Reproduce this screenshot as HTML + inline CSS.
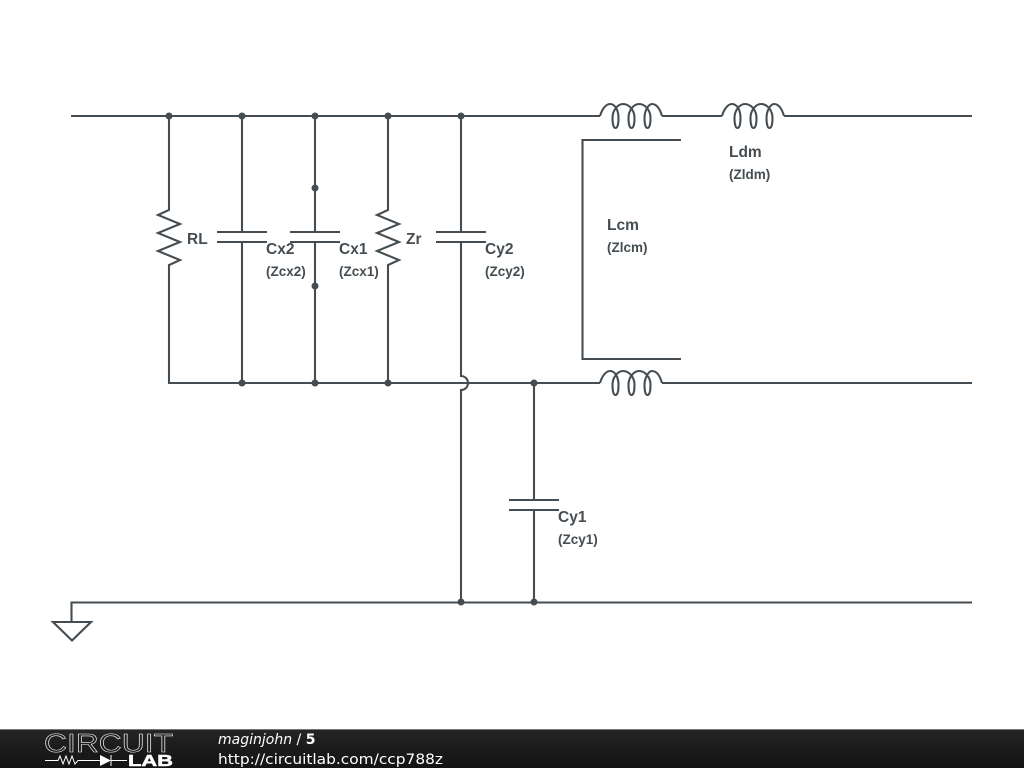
<!DOCTYPE html>
<html><head><meta charset="utf-8"><style>html,body{margin:0;padding:0;background:#fff;width:1024px;height:768px;overflow:hidden}svg{display:block}</style></head>
<body>
<svg width="1024" height="768" viewBox="0 0 1024 768" xmlns="http://www.w3.org/2000/svg">
<defs>
<linearGradient id="g" x1="0" y1="0" x2="0" y2="1"><stop offset="0" stop-color="#262626"/><stop offset="0.45" stop-color="#1c1c1c"/><stop offset="1" stop-color="#141414"/></linearGradient>
</defs>
<g fill="none" stroke="#454d52" stroke-width="2.100">
<path d="M71 116H600M662 116H722M784 116H972"/>
<path d="M600 116C602 109 606 104 610 104C615 104 618.500 110 618.500 118C618.500 124 617.500 128 615.500 128C613.500 128 612.500 124 612.500 118C612.500 110 618 104 623 104C629 104 634.500 110 634.500 118C634.500 124 633.500 128 631.500 128C629.500 128 628.500 124 628.500 118C628.500 110 634 104 639 104C645 104 650.500 110 650.500 118C650.500 124 649.500 128 647.500 128C645.500 128 644.500 124 644.500 118C644.500 110 649 104 652 104C657 104 660 109 662 116"/>
<path d="M722 116C724 109 728 104 732 104C737 104 740.500 110 740.500 118C740.500 124 739.500 128 737.500 128C735.500 128 734.500 124 734.500 118C734.500 110 740 104 745 104C751 104 756.500 110 756.500 118C756.500 124 755.500 128 753.500 128C751.500 128 750.500 124 750.500 118C750.500 110 756 104 761 104C767 104 772.500 110 772.500 118C772.500 124 771.500 128 769.500 128C767.500 128 766.500 124 766.500 118C766.500 110 771 104 774 104C779 104 782 109 784 116"/>
<path d="M600 383C602 376 606 371 610 371C615 371 618.500 377 618.500 385C618.500 391 617.500 395 615.500 395C613.500 395 612.500 391 612.500 385C612.500 377 618 371 623 371C629 371 634.500 377 634.500 385C634.500 391 633.500 395 631.500 395C629.500 395 628.500 391 628.500 385C628.500 377 634 371 639 371C645 371 650.500 377 650.500 385C650.500 391 649.500 395 647.500 395C645.500 395 644.500 391 644.500 385C644.500 377 649 371 652 371C657 371 660 376 662 383"/>
<path d="M681 140H582.500V359H681"/>
<path d="M169 116V210L158 215L180 224L158 233L180 242L158 251L180 260L169 265V383H600M662 383H972"/>
<path d="M242 116V232M217 232H267M217 242H267M242 242V383"/>
<path d="M315 116V232M290 232H340M290 242H340M315 242V383"/>
<path d="M388 116V210L377 215L399 224L377 233L399 242L377 251L399 260L388 265V383"/>
<path d="M461 116V232M436 232H486M436 242H486M461 242V376A7 7 0 0 1 461 390V602"/>
<path d="M534 383V500M509 500H559M509 510H559M534 510V602"/>
<path d="M972 602.500H71.500V622"/>
<path d="M53 622H91L72 640.500Z" stroke-linejoin="miter"/>
</g>
<g fill="#454d52">
<circle cx="169" cy="116" r="3.500"/><circle cx="242" cy="116" r="3.500"/><circle cx="315" cy="116" r="3.500"/><circle cx="388" cy="116" r="3.500"/><circle cx="461" cy="116" r="3.500"/>
<circle cx="315" cy="188" r="3.500"/><circle cx="315" cy="286" r="3.500"/>
<circle cx="242" cy="383" r="3.500"/><circle cx="315" cy="383" r="3.500"/><circle cx="388" cy="383" r="3.500"/><circle cx="534" cy="383" r="3.500"/>
<circle cx="461" cy="602" r="3.500"/><circle cx="534" cy="602" r="3.500"/>
</g>
<g fill="#454d52" font-family="'Liberation Sans',sans-serif" font-weight="700" font-size="15.500">
<text x="187" y="244">RL</text>
<text x="266" y="254">Cx2</text>
<text x="339" y="254">Cx1</text>
<text x="406" y="244">Zr</text>
<text x="485" y="254">Cy2</text>
<text x="558" y="522">Cy1</text>
<text x="607" y="230">Lcm</text>
<text x="729" y="157">Ldm</text>
</g>
<g fill="#454d52" font-family="'Liberation Sans',sans-serif" font-weight="700" font-size="13.500">
<text x="266" y="276">(Zcx2)</text>
<text x="339" y="276">(Zcx1)</text>
<text x="485" y="276">(Zcy2)</text>
<text x="558" y="544">(Zcy1)</text>
<text x="607" y="252">(Zlcm)</text>
<text x="729" y="179">(Zldm)</text>
</g>
<rect x="0" y="729" width="1024" height="39" fill="url(#g)"/>
<rect x="0" y="729" width="1024" height="1" fill="#777"/>
<text x="44" y="752" font-family="'Liberation Sans',sans-serif" font-size="26" fill="none" stroke="#f0f0f0" stroke-width="0.600" textLength="129" lengthAdjust="spacingAndGlyphs">CIRCUIT</text>
<text x="128" y="766" font-family="'Liberation Sans',sans-serif" font-size="15.500" font-weight="700" fill="#fff" stroke="#fff" stroke-width="0.500" textLength="45" lengthAdjust="spacingAndGlyphs">LAB</text>
<path d="M45 760.500H58L60 756L63 764L66 756L69 764L72 756L75 764L78 760.500H100M111 760.500H127M111 755V766" fill="none" stroke="#fff" stroke-width="1"/>
<path d="M100 755V766L111 760.500Z" fill="#fff"/>
<text x="218" y="744" font-family="'DejaVu Sans',sans-serif" font-size="14" fill="#fff"><tspan font-style="italic">maginjohn</tspan> / <tspan font-weight="700">5</tspan></text>
<text x="218" y="764" font-family="'DejaVu Sans',sans-serif" font-size="14.500" fill="#fff" textLength="225" lengthAdjust="spacingAndGlyphs">http://circuitlab.com/ccp788z</text>
</svg>
</body></html>
